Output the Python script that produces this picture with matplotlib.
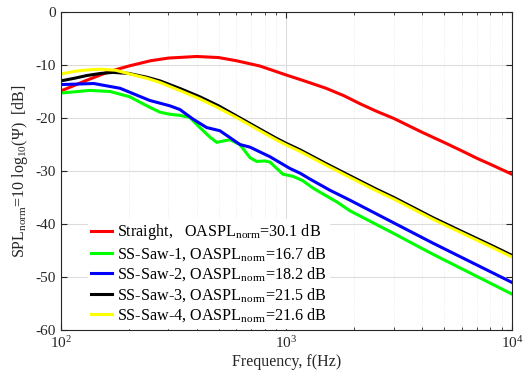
import matplotlib
matplotlib.use("Agg")
import matplotlib.pyplot as plt
from matplotlib.ticker import LogLocator, NullFormatter

plt.rcParams['font.family'] = 'Liberation Serif'
plt.rcParams['mathtext.fontset'] = 'custom'
plt.rcParams['mathtext.rm'] = 'Liberation Serif'
plt.rcParams['mathtext.it'] = 'Liberation Serif:italic'
plt.rcParams['axes.unicode_minus'] = False

# SPL spectra, frequency in Hz, level in dB
f_straight = [100, 130, 165, 200, 250, 300, 400, 500, 600, 763, 1000, 1200, 1500, 1800, 2118, 2500, 3000,
              4000, 5000, 6000, 7000, 8000, 10000]
spl_straight = [-14.9, -12.9, -11.2, -10.2, -9.2, -8.7, -8.4, -8.6, -9.2, -10.2, -11.9, -13.0, -14.4, -15.8,
                -17.3, -18.7, -20.1, -22.7, -24.6, -26.2, -27.6, -28.7, -30.6]

f_saw1 = [100, 134, 165, 202, 248, 275, 304, 337, 373, 413, 458, 491, 530, 562, 622, 690, 740, 800,
          845, 965, 1070, 1180, 1310, 1450, 1670, 1914, 3000, 4467, 10000]
spl_saw1 = [-15.3, -14.8, -15.0, -16.0, -18.0, -18.9, -19.3, -19.5, -19.9, -21.8, -23.6, -24.6, -24.3, -24.1,
            -25.0, -27.5, -28.2, -28.1, -28.3, -30.6, -31.0, -31.8, -33.2, -34.3, -35.8, -37.5, -41.8, -45.7, -53.2]

f_saw2 = [100, 140, 183, 248, 304, 337, 385, 443, 507, 562, 622, 690, 763, 845, 1035, 1149, 1270, 1556,
          1914, 3000, 4467, 10000]
spl_saw2 = [-13.7, -13.5, -14.4, -16.7, -17.7, -18.4, -20.2, -21.8, -22.4, -23.7, -25.0, -25.5, -26.4, -27.3,
            -29.5, -30.4, -31.5, -33.6, -35.5, -39.8, -43.6, -51.0]

f_saw3 = [100, 115, 130, 150, 170, 200, 240, 275, 340, 413, 500, 600, 763, 900, 1000, 1149, 1500, 1914,
          2500, 3000, 4467, 6000, 8000, 10000]
spl_saw3 = [-13.0, -12.5, -12.0, -11.6, -11.4, -11.6, -12.3, -13.0, -14.5, -16.0, -17.7, -19.6, -22.1, -23.8,
            -24.8, -26.0, -28.6, -30.9, -33.4, -35.0, -38.8, -41.4, -43.9, -45.9]

f_saw4 = [100, 115, 130, 150, 175, 202, 240, 275, 340, 413, 500, 600, 763, 900, 1000, 1149, 1500, 1914,
          2500, 3000, 4467, 6000, 8000, 10000]
spl_saw4 = [-11.7, -11.2, -10.95, -10.8, -11.0, -11.7, -12.5, -13.3, -14.9, -16.4, -18.1, -19.9, -22.4, -24.1,
            -25.1, -26.3, -28.9, -31.2, -33.7, -35.3, -39.1, -41.7, -44.2, -46.2]

labels = [r'Straight,   OASPL$_{\mathrm{norm}}$=30.1 dB',
          r'SS-Saw-1, OASPL$_{\mathrm{norm}}$=16.7 dB',
          r'SS-Saw-2, OASPL$_{\mathrm{norm}}$=18.2 dB',
          r'SS-Saw-3, OASPL$_{\mathrm{norm}}$=21.5 dB',
          r'SS-Saw-4, OASPL$_{\mathrm{norm}}$=21.6 dB']
colors = ['#ff0000', '#00ff00', '#0000ff', '#000000', '#ffff00']

fig = plt.figure(figsize=(5.25, 3.73), dpi=100)
ax = fig.add_axes([0.116, 0.115, 0.859, 0.853])

series = [(f_straight, spl_straight), (f_saw1, spl_saw1), (f_saw2, spl_saw2),
          (f_saw3, spl_saw3), (f_saw4, spl_saw4)]
for (f, s), c, lab in zip(series, colors, labels):
    ax.plot(f, s, color=c, lw=2.2, label=lab, solid_joinstyle='round')

ax.set_xscale('log')
ax.set_xlim(100, 10000)
ax.set_ylim(-60, 0)
ax.set_yticks(range(-60, 1, 10))
ax.xaxis.set_minor_locator(LogLocator(base=10, subs=range(2, 10)))
ax.xaxis.set_minor_formatter(NullFormatter())

ax.grid(True, which='major', color='#dcdcdc', lw=0.8)
ax.grid(True, which='minor', axis='x', color='#e6e6e6', lw=0.6, ls=':')
ax.set_axisbelow(True)

ax.tick_params(which='both', direction='in', top=True, right=True, labelsize=11, colors='#262626')
ax.tick_params(which='major', length=4)
ax.tick_params(which='minor', length=2.5)
for sp in ax.spines.values():
    sp.set_color('#262626')
    sp.set_linewidth(0.8)
    sp.set_zorder(3)

ax.set_xlabel('Frequency, f(Hz)', fontsize=11.5, color='#262626', labelpad=2)
ax.set_ylabel(r'SPL$_{\mathrm{norm}}$=10 log$_{10}$($\Psi$)  [dB]', fontsize=11.5, color='#262626')

leg = ax.legend(loc='lower left', bbox_to_anchor=(0.054, 0.0), borderaxespad=0.15,
                fontsize=11.6, frameon=True, fancybox=False, framealpha=1,
                edgecolor='white', handlelength=1.3, handletextpad=0.3,
                labelspacing=0.17, borderpad=0.2)
leg.set_zorder(2.5)

fig.savefig('out.png', dpi=100)
